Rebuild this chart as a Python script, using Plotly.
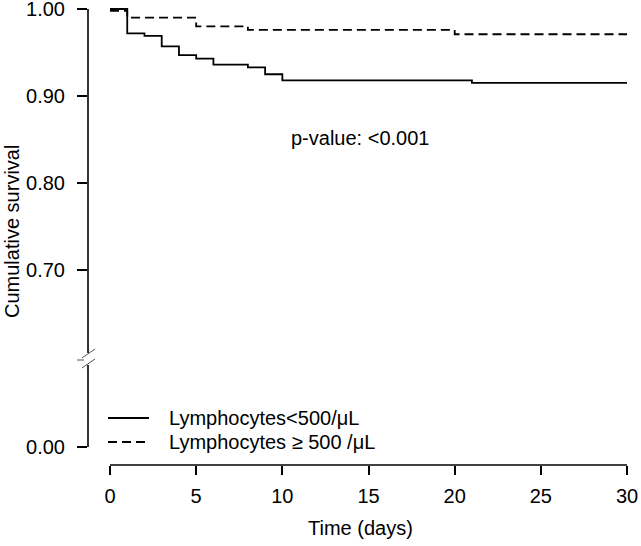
import plotly.graph_objects as go

# Kaplan-Meier estimates
t_low = [0, 1, 2, 3, 4, 5, 6, 8, 9, 10, 21, 30]
s_low = [1.000, 0.972, 0.969, 0.957, 0.947, 0.943, 0.936, 0.933, 0.925, 0.918, 0.915, 0.915]
t_high = [0, 1, 5, 8, 20, 30]
s_high = [0.998, 0.990, 0.980, 0.976, 0.971, 0.971]

names = ["Lymphocytes<500/\u03bcL", "Lymphocytes \u2265 500 /\u03bcL"]
x_ticks = [0, 5, 10, 15, 20, 25, 30]
y_ticks_top = [0.70, 0.80, 0.90, 1.00]
y_ticks_bottom = [0.00]
p_text = "p-value: <0.001"

W, H = 641, 546
L, R, T, B = 88, 0, 0, 81
PW, PH = W - L - R, H - T - B
FONT = dict(family="Arial, Liberation Sans, sans-serif", size=20, color="black")
LW = 1.6


def px_x(px):
    return (px - L) / PW


def px_y(py):
    return (H - B - py) / PH


fig = go.Figure()
fig.add_trace(go.Scatter(x=t_low, y=s_low, mode="lines", name=names[0],
                         line=dict(color="black", width=1.8, shape="hv"),
                         showlegend=False, cliponaxis=False))
fig.add_trace(go.Scatter(x=t_high, y=s_high, mode="lines", name=names[1],
                         line=dict(color="black", width=1.8, shape="hv", dash="9px,5px"),
                         showlegend=False, cliponaxis=False))

axis_common = dict(showgrid=False, zeroline=False, showline=False, ticks="outside",
                   tickwidth=LW, tickcolor="black", tickfont=FONT, automargin=False,
                   ticklabeloverflow="allow")

fig.update_layout(
    width=W, height=H,
    margin=dict(l=L, r=R, t=T, b=B, autoexpand=False),
    paper_bgcolor="white", plot_bgcolor="white",
    font=FONT,
    xaxis=dict(range=[-1.277, 30.81], tickvals=x_ticks, ticklen=9,
               anchor="y2", ticklabelstandoff=4, **axis_common),
    yaxis=dict(domain=[px_y(357), 1], range=[0.6, 1.01034], tickvals=y_ticks_top,
               tickformat=".2f", ticklen=10, anchor="x", ticklabelstandoff=8, **axis_common),
    yaxis2=dict(domain=[0, px_y(363)], range=[-0.0207, 0.0966], tickvals=y_ticks_bottom,
                tickformat=".2f", ticklen=10, anchor="x", ticklabelstandoff=8, **axis_common),
)

line = dict(color="black", width=LW)
# axis lines (R style: only across the tick range, with a break)
fig.add_shape(type="line", xref="paper", yref="y", x0=0, x1=0, y0=0.6046, y1=1.0, line=line)
fig.add_shape(type="line", xref="paper", yref="y2", x0=0, x1=0, y0=0.0, y1=0.0943, line=line)
fig.add_shape(type="line", xref="x", yref="paper", x0=0, x1=30, y0=0, y1=0, line=line)

# break marks
brk = dict(color="#555555", width=1)
fig.add_shape(type="line", xref="paper", yref="paper", x0=px_x(82), x1=px_x(95),
              y0=px_y(358), y1=px_y(349), line=brk)
fig.add_shape(type="line", xref="paper", yref="paper", x0=px_x(82), x1=px_x(95),
              y0=px_y(368), y1=px_y(359), line=brk)
fig.add_shape(type="line", xref="paper", yref="paper", x0=px_x(77), x1=px_x(84),
              y0=px_y(360), y1=px_y(360), line=brk)

# legend drawn by hand to match R's layout
fig.add_shape(type="line", xref="paper", yref="paper", x0=px_x(108), x1=px_x(149),
              y0=px_y(418), y1=px_y(418), line=dict(color="black", width=1.8))
fig.add_shape(type="line", xref="paper", yref="paper", x0=px_x(108), x1=px_x(149),
              y0=px_y(442), y1=px_y(442), line=dict(color="black", width=1.8, dash="9px,5px"))
for name, py in zip(names, [418, 442]):
    fig.add_annotation(text=name, xref="paper", yref="paper", x=px_x(167), y=px_y(py),
                       xanchor="left", yanchor="middle", showarrow=False, font=FONT)

fig.add_annotation(text=p_text, xref="paper", yref="paper", x=px_x(289), y=px_y(138),
                   xanchor="left", yanchor="middle", showarrow=False, font=FONT)

# axis titles
fig.add_annotation(text="Time (days)", xref="paper", yref="paper", x=px_x(360), y=px_y(528),
                   xanchor="center", yanchor="middle", showarrow=False, font=FONT)
fig.add_annotation(text="Cumulative survival", xref="paper", yref="paper", x=px_x(12),
                   y=px_y(232), xanchor="center", yanchor="middle", textangle=-90,
                   showarrow=False, font=FONT)

# the page body has a default 8px margin; drop it so the figure fills the window
fig.write_html("out.html", config={"displayModeBar": False},
               post_script="document.body.style.margin='0';")
